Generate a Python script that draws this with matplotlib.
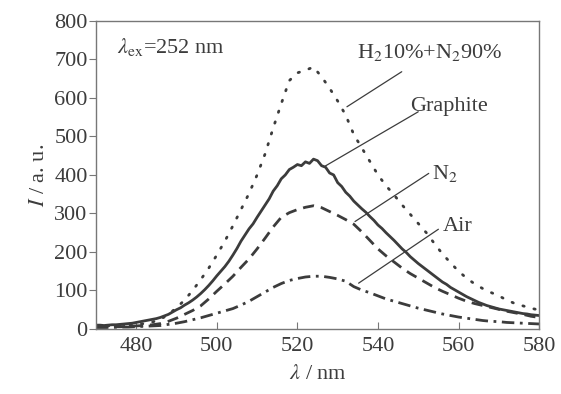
import matplotlib
matplotlib.use("Agg")
import matplotlib.pyplot as plt
import numpy as np

plt.rcParams['font.family'] = ['Liberation Serif', 'DejaVu Serif']
plt.rcParams['mathtext.fontset'] = 'stix'

# ---------------- data ----------------
wl = np.arange(470, 581, 2)          # nm, 2 nm steps

h2n2 = [8, 8, 8, 9, 10, 12, 14, 18, 25, 38, 55, 75, 100, 128, 158, 192, 228, 268, 310, 352,
        400, 455, 522, 585, 645, 665, 672, 680, 655, 625, 592, 555, 505, 470, 435, 400, 372, 348,
        322, 298, 274, 250, 222, 195, 172, 150, 132, 117, 105, 95, 86, 75, 66, 60, 54, 49]

wl_g = np.arange(470, 581, 1)        # graphite curve is noisy, read at 1 nm
graphite = [10, 10, 9, 10, 11, 11, 12, 13, 14, 15, 17, 19, 21, 23, 25, 27, 30, 34, 38, 44,
            50, 55, 62, 68, 75, 83, 92, 102, 113, 125, 138, 150, 162, 176, 192, 209, 228, 244, 260, 273,
            290, 306, 322, 338, 358, 372, 390, 400, 414, 420, 427, 424, 434, 430, 441, 437, 424, 420, 405, 400,
            380, 370, 355, 345, 332, 322, 312, 303, 292, 282, 270, 261, 250, 240, 230, 219, 208, 199, 188, 179,
            170, 162, 154, 146, 138, 130, 122, 116, 108, 102, 96, 90, 84, 79, 74, 69, 65, 61, 58, 55,
            52, 50, 48, 46, 44, 42, 40, 39, 37, 36, 35]

n2 = [5, 5, 6, 6, 7, 8, 9, 11, 14, 20, 28, 38, 48, 60, 78, 98, 117, 137, 160, 182,
      208, 236, 265, 290, 302, 310, 316, 320, 315, 305, 295, 284, 272, 252, 230, 208, 190, 174,
      158, 144, 132, 120, 108, 98, 89, 80, 72, 66, 61, 56, 51, 46, 42, 38, 33, 30]

air = [4, 4, 4, 5, 5, 6, 7, 8, 9, 12, 15, 19, 24, 29, 35, 41, 47, 53, 62, 72,
       84, 96, 108, 118, 126, 131, 135, 137, 137, 134, 130, 124, 110, 101, 94, 86, 78, 72,
       66, 60, 54, 49, 44, 39, 35, 31, 28, 25, 22, 20, 19, 17, 16, 15, 14, 13]

xticks = [480, 500, 520, 540, 560, 580]
yticks = [0, 100, 200, 300, 400, 500, 600, 700, 800]

ink = '#3c3c3c'

fig = plt.figure(figsize=(5.61, 3.94), dpi=100)
ax = fig.add_axes([0.171, 0.165, 0.790, 0.782])

ax.plot(wl, h2n2, color=ink, lw=2.0, linestyle=(0, (0.5, 3.6)), dash_capstyle='round')
ax.plot(wl_g, graphite, color=ink, lw=2.0)
ax.plot(wl, n2, color=ink, lw=2.0, linestyle=(0, (4, 2.5)))
ax.plot(wl, air, color=ink, lw=2.0, linestyle=(0, (4.5, 2, 1, 2)))

ax.set_xlim(470, 580)
ax.set_ylim(0, 800)
ax.set_xticks(xticks)
ax.set_yticks(yticks)

for s in ax.spines.values():
    s.set_color('#777777')
    s.set_linewidth(1.0)
ax.tick_params(axis='x', direction='in', length=5, color='#777777', labelsize=16,
               labelcolor=ink, pad=6)
ax.tick_params(axis='y', direction='out', length=5, color='#777777', labelsize=16,
               labelcolor=ink, pad=1)

ax.set_xlabel(r'$\lambda$ / nm', fontsize=16, color=ink, labelpad=6)
ax.set_ylabel(r'$I$ / a. u.', fontsize=16, color=ink, labelpad=4)

ax.text(475.2, 732, r'$\lambda_{\rm ex}$=252 nm', fontsize=16, color=ink, va='center')

lead = dict(arrowstyle='-', color=ink, lw=0.9, shrinkA=0, shrinkB=0)
ax.text(553, 717, r'H$_2$10%+N$_2$90%', fontsize=16, color=ink, ha='center', va='center')
ax.annotate('', xy=(532.3, 577), xytext=(545.9, 668), arrowprops=lead)
ax.text(557.7, 577, 'Graphite', fontsize=16, color=ink, ha='center', va='center')
ax.annotate('', xy=(526.9, 423), xytext=(550, 564), arrowprops=lead)
ax.text(553.5, 405, r'N$_2$', fontsize=16, color=ink, ha='left', va='center')
ax.annotate('', xy=(534.3, 279), xytext=(552.6, 404), arrowprops=lead)
ax.text(556.2, 265, 'Air', fontsize=16, color=ink, ha='left', va='center')
ax.annotate('', xy=(535.2, 119), xytext=(555, 259), arrowprops=lead)

fig.savefig('out.png', dpi=100)
